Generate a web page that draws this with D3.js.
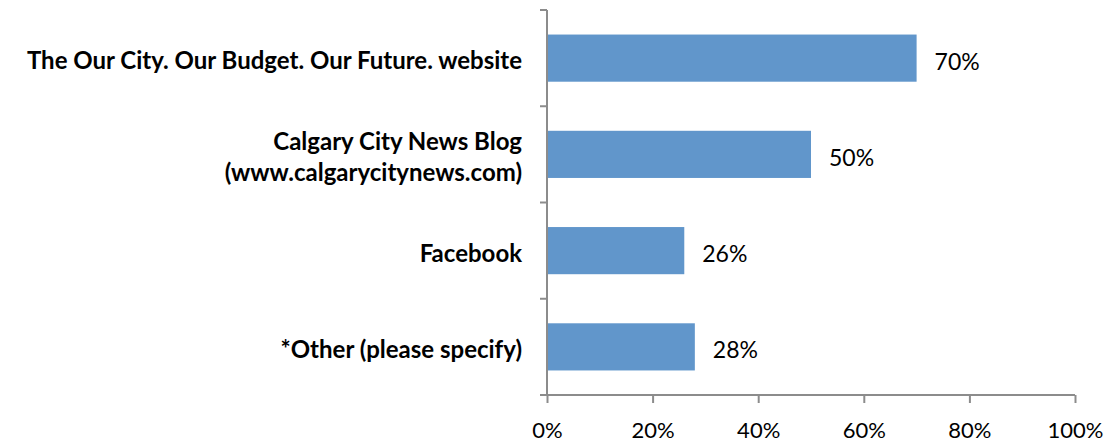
<!DOCTYPE html>
<html><head><meta charset="utf-8">
<script src="https://cdn.jsdelivr.net/npm/d3@7"></script>
<style>body{margin:0;background:#fff}</style>
</head><body><svg id="c" width="1107" height="444"></svg>
<script>
const categories = [
  ["The Our City. Our Budget. Our Future. website"],
  ["Calgary City News Blog", "(www.calgarycitynews.com)"],
  ["Facebook"],
  ["*Other (please specify)"]
];
const values = [70, 50, 26, 28];
const xTicks = [0, 20, 40, 60, 80, 100];

const svg = d3.select("#c");
const font = "Lato, 'Open Sans', sans-serif";
const x = d3.scaleLinear().domain([0, 100]).range([547, 1075]);
const y = d3.scaleBand().domain(d3.range(categories.length)).range([10, 395]).paddingInner(0.51).paddingOuter(0.255);
const axisColor = "#8c8c8c";

// bars
svg.selectAll("rect.bar").data(values).join("rect")
  .attr("x", x(0)).attr("y", (d, i) => y(i))
  .attr("width", d => x(d) - x(0)).attr("height", y.bandwidth())
  .attr("fill", "#6196CB");

// value labels
svg.selectAll("text.val").data(values).join("text")
  .attr("x", d => x(d) + 18).attr("y", (d, i) => y(i) + y.bandwidth() / 2 + 11.5)
  .attr("font-family", font).attr("font-size", 23).attr("fill", "#000")
  .text(d => d + "%");

// y axis line & ticks
svg.append("line").attr("x1", 547).attr("x2", 547).attr("y1", 10).attr("y2", 395).attr("stroke", axisColor).attr("stroke-width", 2);
const yTickPos = d3.range(categories.length + 1).map(i => 10 + i * (385 / categories.length));
svg.selectAll("line.yt").data(yTickPos).join("line")
  .attr("x1", 540).attr("x2", 547).attr("y1", d => d).attr("y2", d => d)
  .attr("stroke", axisColor).attr("stroke-width", 2);

// x axis
const xAxis = svg.append("g").attr("transform", "translate(0,395)")
  .call(d3.axisBottom(x).tickValues(xTicks).tickSize(8).tickPadding(0).tickFormat(d => d + "%"));
xAxis.select(".domain").attr("stroke", axisColor).attr("stroke-width", 2).attr("d", "M547,0H1075");
xAxis.selectAll(".tick line").attr("stroke", axisColor).attr("stroke-width", 2);
xAxis.selectAll(".tick text").attr("font-family", font).attr("font-size", 22).attr("fill", "#000")
  .attr("y", 43).attr("dy", 0);

// category labels
svg.selectAll("text.cat").data(categories).join("text")
  .attr("text-anchor", "end").attr("font-family", font).attr("font-size", 24).attr("font-weight", "bold").attr("fill", "#000")
  .each(function(lines, i) {
    const cy = y(i) + y.bandwidth() / 2 + 11;
    const lh = 31;
    const t = d3.select(this);
    lines.forEach((l, k) => {
      t.append("tspan").attr("x", 522).attr("y", cy + (k - (lines.length - 1) / 2) * lh).text(l);
    });
  });
</script></body></html>
